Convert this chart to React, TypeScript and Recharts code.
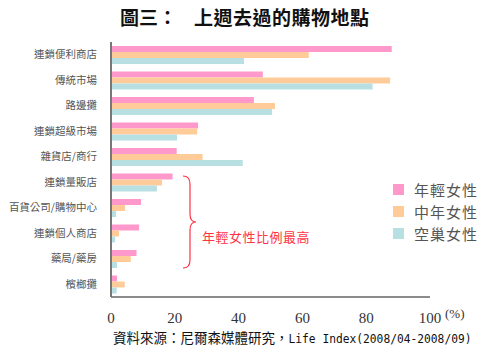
import { BarChart, Bar, XAxis, YAxis, Customized } from 'recharts';

const categories = ['連鎖便利商店', '傳統市場', '路邊攤', '連鎖超級市場', '雜貨店/商行', '連鎖量販店', '百貨公司/購物中心', '連鎖個人商店', '藥局/藥房', '檳榔攤'];
const young = [88, 47.6, 44.8, 27.3, 20.6, 19.3, 9.4, 8.8, 8, 1.9];
const middle = [62, 87.5, 51.4, 27, 28.7, 16, 4.4, 2.5, 6.2, 4.3];
const empty = [41.7, 82, 50.5, 20.7, 41.3, 14.4, 1.6, 1.3, 1.9, 1.8];
const xTicks = [0, 20, 40, 60, 80, 100];

const series = [
  { key: 'young', name: '年輕女性', color: '#FF99CC' },
  { key: 'middle', name: '中年女性', color: '#FFCC99' },
  { key: 'empty', name: '空巢女性', color: '#B8E0E3' },
];

const data = categories.map((name, i) => ({ name, young: young[i], middle: middle[i], empty: empty[i] }));

const cjk = '"Noto Sans CJK TC", "Noto Sans CJK SC", sans-serif';

function LegendBox() {
  return (
    <div style={{ position: 'absolute', left: 393, top: 178, fontFamily: cjk }}>
      {series.map(s => (
        <div key={s.key} style={{ display: 'flex', alignItems: 'center', height: 22 }}>
          <span style={{ width: 11, height: 11, background: s.color, marginRight: 10, display: 'inline-block' }} />
          <span style={{ fontSize: 15, color: '#555', letterSpacing: 1 }}>{s.name}</span>
        </div>
      ))}
    </div>
  );
}

function Notes() {
  return (
    <g>
      <text x={120} y={25} fontFamily={cjk} fontSize={19} fontWeight="bold" fill="#111">圖三：</text>
      <text x={194} y={25} fontFamily={cjk} fontSize={19} fontWeight="bold" fill="#111" letterSpacing={0.5}>上週去過的購物地點</text>
      <path d="M183,176 Q190,176 190,184 L190,214 Q190,222 196,222 Q190,222 190,230 L190,260 Q190,268 183,268" fill="none" stroke="#FF3344" strokeWidth={1.2} />
      <text x={202} y={242} fontFamily={cjk} fontSize={13} fill="#FF3344" letterSpacing={0.5}>年輕女性比例最高</text>
      <text x={445} y={318} fontFamily='"Liberation Serif", serif' fontSize={13} fill="#333">(%)</text>
      <text x={113} y={343} fontFamily={cjk} fontSize={13.5} fill="#111">
        資料來源：尼爾森媒體研究，
        <tspan fontFamily='"DejaVu Sans Mono", monospace' fontSize={12} textLength={183} lengthAdjust="spacingAndGlyphs">Life Index(2008/04-2008/09)</tspan>
      </text>
    </g>
  );
}

export default function App() {
  return (
    <div style={{ position: 'absolute', left: 0, top: 0, width: 500, height: 353, background: '#fff' }}>
      <BarChart
        width={500}
        height={353}
        data={data}
        layout="vertical"
        margin={{ top: 42, right: 70, bottom: 0, left: 8 }}
        barGap={0}
        barSize={6}
      >
        <XAxis
          type="number"
          domain={[0, 100]}
          ticks={xTicks}
          tickLine={false}
          axisLine={{ stroke: '#666', strokeWidth: 1.5 }}
          tick={{ fontFamily: '"Liberation Serif", serif', fontSize: 15, fill: '#333' }}
          tickMargin={9}
          height={56}
        />
        <YAxis
          type="category"
          dataKey="name"
          width={103}
          tickLine={false}
          axisLine={{ stroke: '#777', strokeWidth: 2 }}
          tick={{ fontFamily: cjk, fontSize: 10.5, fill: '#555' }}
          tickMargin={8}
          interval={0}
        />
        {series.map(s => (
          <Bar key={s.key} dataKey={s.key} name={s.name} fill={s.color} isAnimationActive={false} />
        ))}
        <Customized component={<Notes />} />
      </BarChart>
      <LegendBox />
    </div>
  );
}
